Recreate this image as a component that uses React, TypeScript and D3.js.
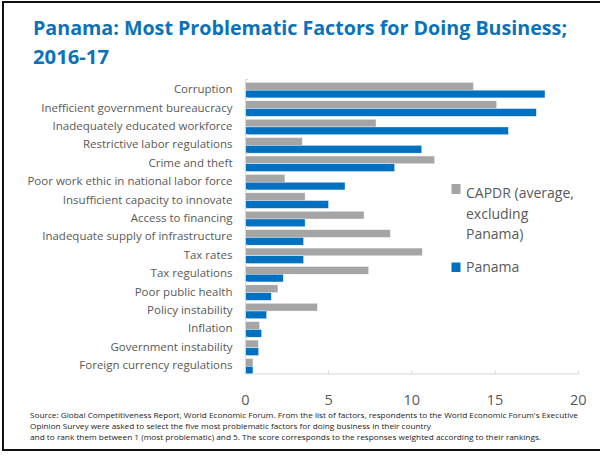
import React from "react";
import * as d3 from "d3";

const categories = [
  "Corruption",
  "Inefficient government bureaucracy",
  "Inadequately educated workforce",
  "Restrictive labor regulations",
  "Crime and theft",
  "Poor work ethic in national labor force",
  "Insufficient capacity to innovate",
  "Access to financing",
  "Inadequate supply of infrastructure",
  "Tax rates",
  "Tax regulations",
  "Poor public health",
  "Policy instability",
  "Inflation",
  "Government instability",
  "Foreign currency regulations",
];
const capdr = [13.7, 15.1, 7.85, 3.42, 11.37, 2.38, 3.59, 7.13, 8.71, 10.63, 7.41, 1.96, 4.33, 0.86, 0.78, 0.46];
const panama = [18.0, 17.48, 15.8, 10.6, 8.97, 5.99, 5.0, 3.59, 3.5, 3.5, 2.28, 1.56, 1.28, 0.98, 0.8, 0.46];
const xTicks = [0, 5, 10, 15, 20];
const seriesNames = ["CAPDR", "Panama"];
const titleLines = ["Panama: Most Problematic Factors for Doing Business;", "2016-17"];
const footnoteLines = [
  "Source: Global Competitiveness  Report, World Economic Forum. From the list of factors, respondents to the World Economic Forum's Executive",
  "Opinion Survey were asked to select the five most problematic factors for doing business in their country",
  "and to rank them between 1 (most problematic) and 5. The score corresponds to the responses weighted according to their rankings.",
];

const GRAY = "#a5a5a5";
const BLUE = "#0070c0";
const TEXT = "#595959";
const AXIS = "#d9d9d9";
const FONT = "'Open Sans', sans-serif";

export default function App() {
  const x = d3.scaleLinear().domain([0, 20]).range([245.3, 578.3]);
  const y = d3.scaleBand().domain(categories).range([79.5, 374]);
  const sub = d3
    .scaleBand()
    .domain(seriesNames)
    .range([2.9, y.bandwidth()]);
  const values = [capdr, panama];
  const colors = [GRAY, BLUE];

  return (
    <svg
      width={600}
      height={456}
      style={{ position: "absolute", left: 0, top: 0, background: "#fff" }}
      fontFamily={FONT}
    >
      <rect x={0} y={0} width={600} height={456} fill="#fff" />
      <rect x={3} y={2} width={600} height={448} fill="none" stroke="#111" strokeWidth={2} />

      {/* Title */}
      <text x={33} y={35} fill="#0a72ba" fontWeight="bold" fontSize={20} textLength={534} lengthAdjust="spacingAndGlyphs">
        {titleLines[0]}
      </text>
      <text x={33} y={63.5} fill="#0a72ba" fontWeight="bold" fontSize={20} textLength={76} lengthAdjust="spacingAndGlyphs">
        {titleLines[1]}
      </text>

      {/* Bars */}
      {categories.map((c, i) =>
        seriesNames.map((s, j) => (
          <rect
            key={c + s}
            x={x(0)}
            y={(y(c) as number) + (sub(s) as number)}
            width={x(values[j][i]) - x(0)}
            height={sub.bandwidth()}
            fill={colors[j]}
            stroke="#ffffff"
            strokeWidth={0.4}
          />
        ))
      )}

      {/* Y axis */}
      <line x1={x(0)} x2={x(0)} y1={79.5} y2={374} stroke={AXIS} strokeWidth={1} />
      {categories.map((c) => (
        <line key={"yt" + c} x1={x(0)} x2={x(0) + 3} y1={y(c) as number} y2={y(c) as number} stroke={AXIS} strokeWidth={1} />
      ))}
      {categories.map((c) => (
        <text
          key={"yl" + c}
          x={232.5}
          y={(y(c) as number) + y.bandwidth() / 2 + 4.5}
          textAnchor="end"
          fontSize={11.5}
          fill={TEXT}
        >
          {c}
        </text>
      ))}

      {/* X axis */}
      <line x1={x(0)} x2={x(20)} y1={374} y2={374} stroke={AXIS} strokeWidth={1} />
      {xTicks.map((t) => (
        <line key={"xt" + t} x1={x(t)} x2={x(t)} y1={370.5} y2={374.5} stroke={AXIS} strokeWidth={1} />
      ))}
      {xTicks.map((t) => (
        <text key={"xl" + t} x={x(t)} y={405} textAnchor="middle" fontSize={14.5} fill={TEXT}>
          {t}
        </text>
      ))}

      {/* Legend */}
      <rect x={451.5} y={184} width={9} height={10} fill={GRAY} />
      <text x={466} y={198} fontSize={14} fill={TEXT}>
        <tspan x={466} y={198}>CAPDR (average,</tspan>
        <tspan x={466} y={219}>excluding</tspan>
        <tspan x={466} y={239}>Panama)</tspan>
      </text>
      <rect x={451.5} y={262.5} width={9} height={9.5} fill={BLUE} />
      <text x={466} y={272} fontSize={14} fill={TEXT}>
        Panama
      </text>

      {/* Footnote */}
      {footnoteLines.map((l, i) => (
        <text
          key={"fn" + i}
          x={30}
          y={418 + i * 11}
          fontSize={7.8}
          fill="#222"
          textLength={[548, 401, 511][i]}
          lengthAdjust="spacingAndGlyphs"
        >
          {l}
        </text>
      ))}
    </svg>
  );
}
